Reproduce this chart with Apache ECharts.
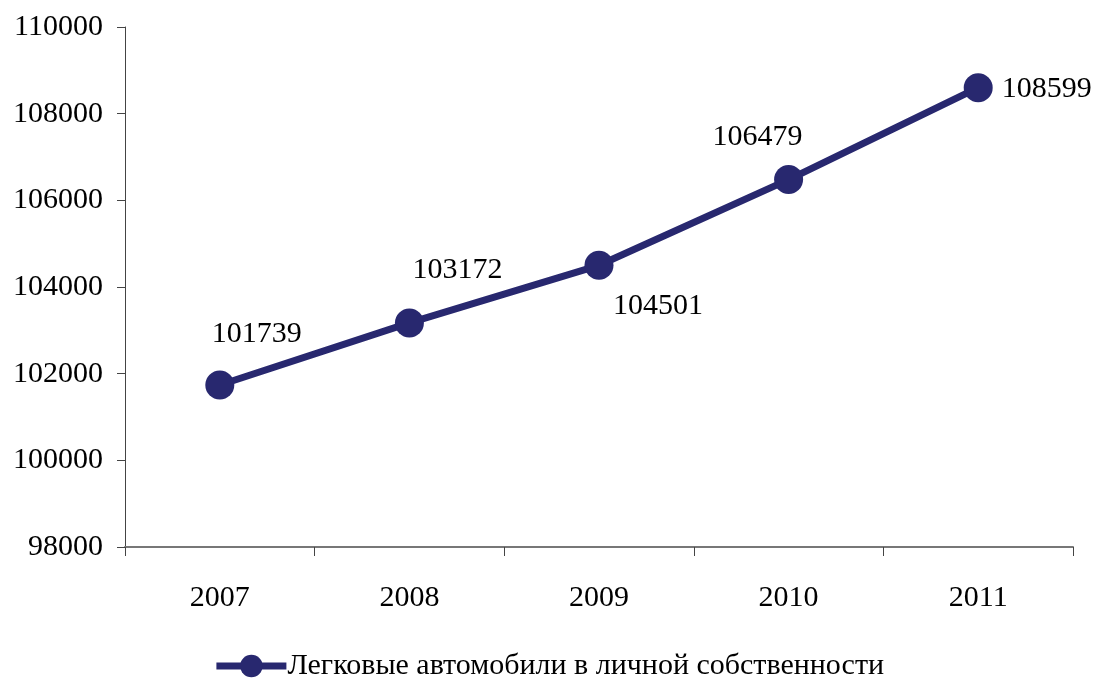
<!DOCTYPE html>
<html>
<head>
<meta charset="utf-8">
<script src="https://cdn.jsdelivr.net/npm/echarts@6/dist/echarts.min.js"></script>
<style>
html,body{margin:0;padding:0;background:#fff;}
#c{width:1097px;height:679px;}
</style>
</head>
<body>
<div id="c"></div>
<script>
const years = ['2007', '2008', '2009', '2010', '2011'];
const cars = [101739, 103172, 104501, 106479, 108599];
const seriesName = 'Легковые автомобили в личной собственности';
const yMin = 98000, yMax = 110000, yStep = 2000;

const FONT = '"Liberation Serif", "Times New Roman", serif';
const COLOR = '#28286f';
const FS = 30;
// label placement per point (style only)
const labelStyles = [
  {position: 'top', offset: [37, -16]},
  {position: 'top', offset: [48, -18]},
  {position: 'bottom', offset: [59, 6]},
  {position: 'top', offset: [-31, -8]},
  {position: 'right', offset: [4, 1]}
];

const chart = echarts.init(document.getElementById('c'), null, {renderer: 'canvas'});
chart.setOption({
  animation: false,
  backgroundColor: '#fff',
  grid: {left: 125, right: 24, top: 27, bottom: 132},
  xAxis: {
    type: 'category',
    data: years,
    boundaryGap: true,
    axisLine: {lineStyle: {color: '#777', width: 2}},
    axisTick: {show: true, alignWithLabel: false, length: 9, lineStyle: {color: '#444', width: 1}},
    axisLabel: {color: '#000', fontFamily: FONT, fontSize: FS, margin: 36}
  },
  yAxis: {
    type: 'value',
    min: yMin, max: yMax, interval: yStep,
    axisLine: {show: true, lineStyle: {color: '#444', width: 1}},
    axisTick: {show: true, length: 8, lineStyle: {color: '#444'}},
    splitLine: {show: false},
    axisLabel: {color: '#000', fontFamily: FONT, fontSize: FS, margin: 22, formatter: v => String(v)}
  },
  legend: {
    top: 646,
    left: 'center',
    itemWidth: 70,
    itemHeight: 28,
    itemGap: 0,
    textStyle: {color: '#000', fontFamily: FONT, fontSize: FS, padding: [0, 0, 0, -4]},
    lineStyle: {width: 7, color: COLOR},
    data: [{name: seriesName}]
  },
  series: [{
    name: seriesName,
    type: 'line',
    data: cars.map((v, i) => ({value: v, label: labelStyles[i]})),
    symbol: 'circle',
    symbolSize: 29,
    itemStyle: {color: COLOR},
    lineStyle: {color: COLOR, width: 7},
    label: {show: true, color: '#000', fontFamily: FONT, fontSize: FS}
  }]
});
</script>
</body>
</html>
